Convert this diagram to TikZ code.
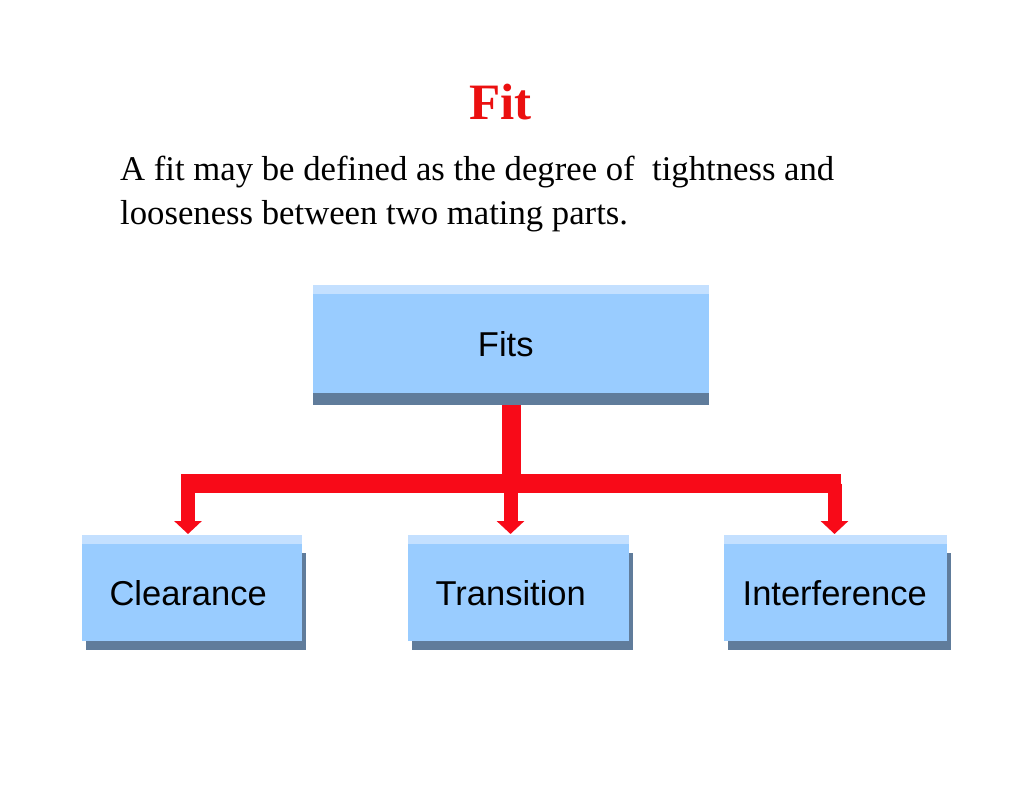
\documentclass[tikz,border=0pt]{standalone}
\usepackage{fontspec}
\setmainfont{Liberation Serif}
\newfontfamily\boxfont{Liberation Sans}
\usetikzlibrary{arrows.meta,backgrounds}
\definecolor{boxblue}{RGB}{153,204,255}
\definecolor{stripblue}{RGB}{196,224,255}
\definecolor{shadowc}{RGB}{96,124,155}
\definecolor{arrowred}{RGB}{248,10,24}
\definecolor{titlered}{RGB}{235,16,16}
\begin{document}
\begin{tikzpicture}[x=1pt,y=-1pt,
  box/.style={fill=boxblue, inner sep=0pt, anchor=north west,
    font=\boxfont\fontsize{34.5}{40}\selectfont, text=black},
  tx/.style={execute at begin node={\hspace*{-#1}}, execute at end node={\hspace*{#1}}},
  strip/.style={fill=stripblue},
  shadow/.style={fill=shadowc},
  redline/.style={draw=arrowred},
  stemline/.style={redline, line width=19pt},
  dropline/.style={redline, line width=14pt, -{Triangle[width=27pt,length=13pt]}},
  bodytext/.style={font=\fontsize{34.7}{44}\selectfont, anchor=base west, inner sep=0pt}]
\useasboundingbox (0,0) rectangle (1024,791);

% title and definition
\node[font=\bfseries\fontsize{51}{51}\selectfont, text=titlered, anchor=base, inner sep=0pt] (title) at (500.5,120) {Fit};
\node[bodytext] (def1) at (120,181) {A fit may be defined as the degree of\ \ tightness and};
\node[bodytext] (def2) at (120,225) {looseness between two mating parts.};

% boxes
\node[box, minimum width=396pt, minimum height=99pt, tx=5.5pt] (fits) at (313,294) {Fits};
\node[box, minimum width=220pt, minimum height=97pt, tx=4pt] (clear) at (82,544) {Clearance};
\node[box, minimum width=221pt, minimum height=97pt, tx=8pt] (trans) at (408,544) {Transition};
\node[box, minimum width=223pt, minimum height=97pt, tx=1pt] (interf) at (724,544) {Interference};

\begin{scope}[on background layer]
  \fill[white] (0,0) rectangle (1024,791);
  \fill[shadow] (fits.south west) rectangle ([yshift=-12pt]fits.south east);
  \foreach \n in {clear,trans,interf}{
    \fill[shadow] ([shift={(3.5pt,-9pt)}]\n.south west) rectangle ([shift={(3.5pt,-9pt)}]\n.north east);
  }
\end{scope}
\foreach \n in {fits,clear,trans,interf}{
  \fill[strip] (\n.north west) rectangle ([yshift=9pt]\n.north east);
}

% connectors
\coordinate (bar) at (510.5,483.5);
\coordinate (barL) at (181,483.5);
\coordinate (barR) at (841,483.5);
\coordinate (tipL) at (188,534);
\coordinate (tipM) at (510.5,534);
\coordinate (tipR) at (834.5,534);
\draw[stemline] ([yshift=-12pt]fits.south) -- (fits.south |- bar);
\draw[stemline] (barL) -- (barR);
\draw[dropline] (tipL |- bar) -- (tipL);
\draw[dropline] (tipM |- bar) -- (tipM);
\draw[dropline] (tipR |- bar) -- (tipR);
\end{tikzpicture}
\end{document}
